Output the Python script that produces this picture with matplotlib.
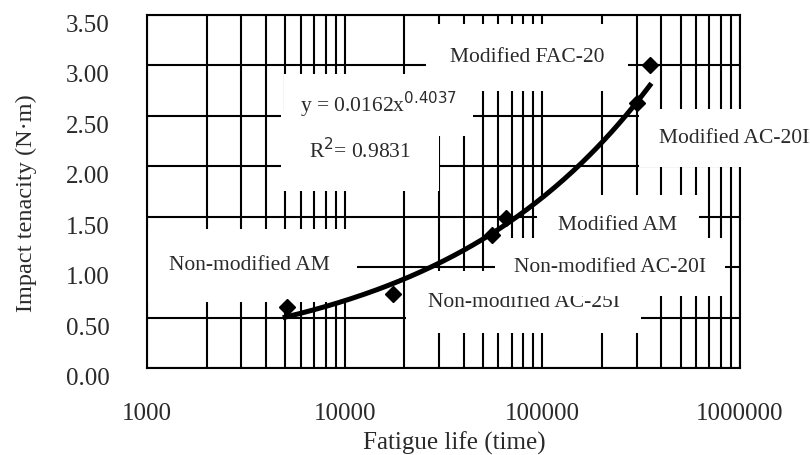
import matplotlib
matplotlib.use("Agg")
import matplotlib.pyplot as plt
import numpy as np
from matplotlib.ticker import FixedLocator, FuncFormatter, LogLocator

plt.rcParams['font.family'] = ['Liberation Serif', 'DejaVu Serif']

# measured points (fatigue life, impact tenacity)
life = [5100, 17500, 55900, 65800, 300000, 350000]
tenacity = [0.60, 0.73, 1.32, 1.49, 2.63, 3.00]

# power trend line as printed on the chart: y = a * x^b
coef_a = 0.0162
coef_b = 0.4037
fit_range = [5000, 350000]

x_ticks = [1000, 10000, 100000, 1000000]
y_ticks = [0.0, 0.5, 1.0, 1.5, 2.0, 2.5, 3.0, 3.5]

# label text, anchor (x, y), horizontal alignment, box padding
labels = [
    ("Non-modified AC-25I", 80700, 0.65, 'center', 1.0),
    ("Non-modified AM", 3300, 1.02, 'center', 1.25),
    ("Non-modified AC-20I", 220000, 1.00, 'center', 0.9),
    ("Modified AM", 241000, 1.41, 'center', 1.0),
    ("Modified AC-20I", 388000, 2.28, 'left', 0.9),
    ("Modified FAC-20", 83600, 3.08, 'center', 1.1),
    ("R$^2$= 0.9831", 6600, 2.16, 'left', 1.3),
    ("y = 0.0162x$^{0.4037}$", 5950, 2.61, 'left', 0.75),
]

fig = plt.figure(figsize=(8.1, 4.55), dpi=100)
ax = fig.add_axes([0.1815, 0.1912, 0.7321, 0.7758])

ax.set_xscale('log')
ax.set_xlim(x_ticks[0], x_ticks[-1])
ax.set_ylim(y_ticks[0], y_ticks[-1])

ax.xaxis.set_major_locator(FixedLocator(x_ticks))
ax.xaxis.set_minor_locator(LogLocator(base=10, subs=np.arange(2, 10)))
ax.xaxis.set_major_formatter(FuncFormatter(lambda v, p: "%d" % v))
ax.xaxis.set_minor_formatter(FuncFormatter(lambda v, p: ""))
ax.yaxis.set_major_locator(FixedLocator(y_ticks))
ax.yaxis.set_major_formatter(FuncFormatter(lambda v, p: "%.2f" % v))

ax.tick_params(which='both', length=0, labelsize=18, colors='#2a2a2a')
ax.tick_params(axis='x', pad=25)
ax.tick_params(axis='y', pad=27)
plt.setp(ax.get_yticklabels(), va='top')

ax.grid(True, which='both', axis='x', color='black', linewidth=1.5)
ax.grid(True, which='major', axis='y', color='black', linewidth=1.5)
for s in ax.spines.values():
    s.set_linewidth(1.5)
    s.set_color('black')
# left and bottom frame stay on top of the label boxes
ax.spines['left'].set_zorder(4)
ax.spines['bottom'].set_zorder(4)

for txt, tx, ty, ha, pad in labels:
    ax.text(tx, ty, txt, ha=ha, va='center', fontsize=15.5, color='#2a2a2a',
            zorder=3, clip_on=False,
            bbox=dict(boxstyle='square,pad=%.2f' % pad, facecolor='white',
                      edgecolor='none'))

xs = np.logspace(np.log10(fit_range[0]), np.log10(fit_range[1]), 200)
ax.plot(xs, coef_a * xs ** coef_b, color='black', linewidth=3.6, zorder=5)
ax.plot(life, tenacity, linestyle='none', marker='D', markersize=8.5,
        color='black', zorder=6, clip_on=False)

ax.set_xlabel("Fatigue life (time)", fontsize=18, color='#2a2a2a')
ax.set_ylabel("Impact tenacity (N\u00b7m)", fontsize=17.5, color='#2a2a2a')
ax.xaxis.set_label_coords(0.519, -0.181)
ax.yaxis.set_label_coords(-0.186, 0.467)

fig.savefig("out.png", dpi=100)
